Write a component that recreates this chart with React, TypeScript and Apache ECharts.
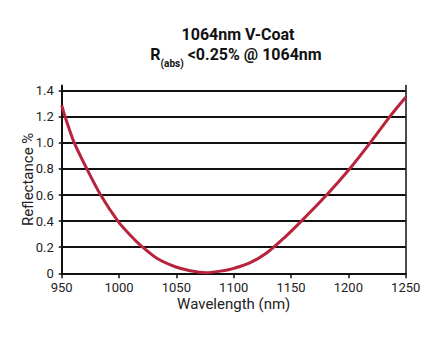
import React, { useEffect, useRef } from "react";
import * as echarts from "echarts";

const wavelengths = [950, 953, 961, 972, 984, 999, 1010, 1020, 1033, 1049, 1062, 1076, 1091, 1100, 1114, 1129, 1145, 1159, 1181, 1201, 1219, 1236, 1250];
const reflectance = [1.29, 1.2, 1.0, 0.8, 0.6, 0.4, 0.29, 0.205, 0.115, 0.05, 0.02, 0.005, 0.02, 0.038, 0.08, 0.158, 0.28, 0.4, 0.6, 0.8, 1.0, 1.2, 1.35];
const yTicks = [0, 0.2, 0.4, 0.6, 0.8, 1.0, 1.2, 1.4];
const xTicks = [950, 1000, 1050, 1100, 1150, 1200, 1250];

const FONT = "Roboto, 'Liberation Sans', sans-serif";

export default function App() {
  const ref = useRef<HTMLDivElement>(null);
  useEffect(() => {
    if (!ref.current) return;
    const chart = echarts.init(ref.current, undefined, { renderer: "svg" });
    chart.setOption({
      animation: false,
      backgroundColor: "#ffffff",
      textStyle: { fontFamily: FONT },
      title: [
        {
          text: "1064nm V-Coat",
          left: 233,
          textAlign: "center",
          top: 21,
          textStyle: { fontFamily: FONT, fontSize: 16, fontWeight: "bold", color: "#111" },
        },
        {
          text: "{a|R}{b|(abs)}{a| <0.25% @ 1064nm}",
          left: 231,
          textAlign: "center",
          top: 41,
          textStyle: {
            fontFamily: FONT,
            rich: {
              a: { fontFamily: FONT, fontSize: 16, fontWeight: "bold", color: "#111", lineHeight: 18, verticalAlign: "top" },
              b: { fontFamily: FONT, fontSize: 10, fontWeight: "bold", color: "#111", lineHeight: 10, padding: [12, 0, 0, 0], verticalAlign: "top" },
            },
          },
        },
      ],
      grid: { left: 61.7, right: 37.3, top: 85.5, bottom: 69.7, containLabel: false },
      xAxis: {
        type: "value",
        min: 950,
        max: 1250,
        interval: 50,
        name: "Wavelength (nm)",
        nameLocation: "middle",
        nameGap: 23,
        nameMoveOverlap: false,
        nameTextStyle: { fontFamily: FONT, fontSize: 15, color: "#222" },
        axisLine: { show: true, lineStyle: { color: "#111", width: 2 } },
        axisTick: { show: true, length: 5, lineStyle: { color: "#111", width: 1.5 } },
        axisLabel: { fontFamily: FONT, fontSize: 13, color: "#222", margin: 8, lineHeight: 13, customValues: xTicks, formatter: (v: number) => String(v) },
        splitLine: { show: false },
      },
      yAxis: [
        {
          type: "value",
          min: 0,
          max: 1.44,
          interval: 0.2,
          name: "Reflectance %",
          nameLocation: "middle",
          nameGap: 26,
          nameMoveOverlap: false,
          nameRotate: 90,
          nameTextStyle: { fontFamily: FONT, fontSize: 15, color: "#222" },
          axisLine: { show: true, lineStyle: { color: "#111", width: 2 } },
          axisTick: { show: true, length: 3, lineStyle: { color: "#111", width: 1.5 }, customValues: yTicks },
          axisLabel: {
            fontFamily: FONT,
            fontSize: 13,
            color: "#222",
            margin: 8,
            customValues: yTicks,
            formatter: (v: number) => (v === 0 ? "0" : v.toFixed(1)),
          },
          splitLine: { show: true, lineStyle: { color: "#111", width: 2 } },
        },
        {
          type: "value",
          min: 0,
          max: 1.44,
          position: "right",
          axisLine: { show: true, lineStyle: { color: "#111", width: 1.5 } },
          axisTick: { show: false },
          axisLabel: { show: false },
          splitLine: { show: false },
        },
      ],
      series: [
        {
          type: "line",
          data: wavelengths.map((w, i) => [w, reflectance[i]]),
          smooth: 0.3,
          showSymbol: false,
          lineStyle: { color: "#b8243c", width: 3 },
          clip: false,
        },
      ],
    });
    return () => chart.dispose();
  }, []);
  return <div ref={ref} style={{ position: "absolute", left: 0, top: 0, width: 443, height: 343 }} />;
}
